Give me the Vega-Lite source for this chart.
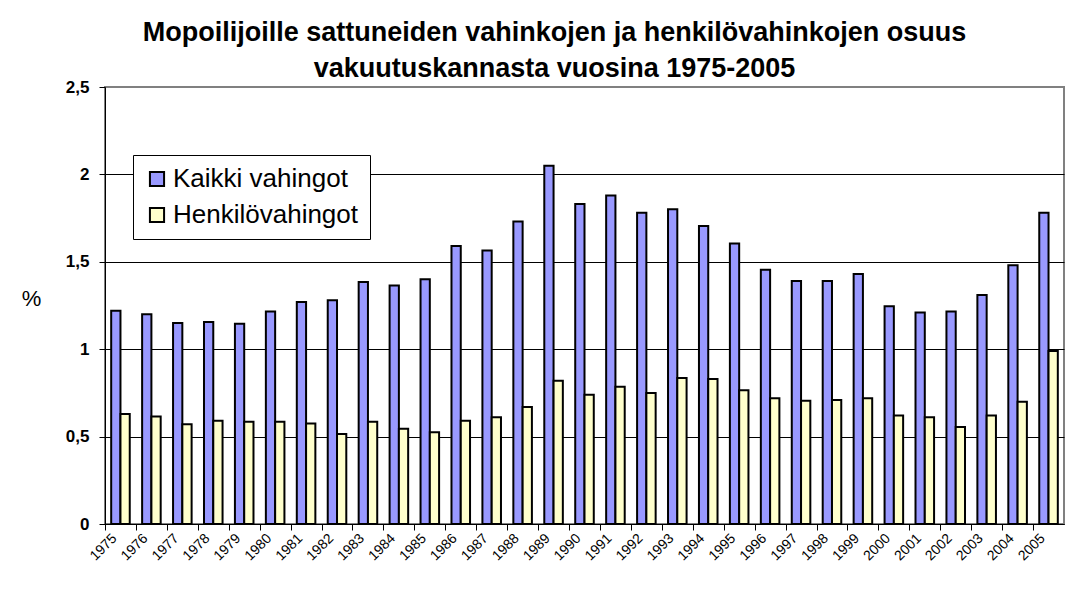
{
  "$schema": "https://vega.github.io/schema/vega-lite/v6.json",
  "width": 959,
  "height": 437,
  "autosize": {"type": "none"},
  "padding": {"left": 105, "top": 87, "right": 18, "bottom": 74},
  "background": "white",
  "config": {
    "font": "Liberation Sans",
    "view": {"stroke": "#808080", "strokeWidth": 2, "fill": "white"}
  },
  "title": {
    "text": ["Mopoilijoille sattuneiden vahinkojen ja henkilövahinkojen osuus", "vakuutuskannasta vuosina 1975-2005"],
    "font": "Liberation Sans",
    "fontSize": 27,
    "fontWeight": "bold",
    "color": "black",
    "anchor": "middle",
    "dx": -30,
    "offset": -5,
    "lineHeight": 36
  },
  "data": {
    "values": [
      {"year": "1975", "series": "Kaikki vahingot", "value": 1.22},
      {"year": "1976", "series": "Kaikki vahingot", "value": 1.2},
      {"year": "1977", "series": "Kaikki vahingot", "value": 1.15},
      {"year": "1978", "series": "Kaikki vahingot", "value": 1.155},
      {"year": "1979", "series": "Kaikki vahingot", "value": 1.145},
      {"year": "1980", "series": "Kaikki vahingot", "value": 1.215},
      {"year": "1981", "series": "Kaikki vahingot", "value": 1.27},
      {"year": "1982", "series": "Kaikki vahingot", "value": 1.28},
      {"year": "1983", "series": "Kaikki vahingot", "value": 1.385},
      {"year": "1984", "series": "Kaikki vahingot", "value": 1.365},
      {"year": "1985", "series": "Kaikki vahingot", "value": 1.4},
      {"year": "1986", "series": "Kaikki vahingot", "value": 1.59},
      {"year": "1987", "series": "Kaikki vahingot", "value": 1.565},
      {"year": "1988", "series": "Kaikki vahingot", "value": 1.73},
      {"year": "1989", "series": "Kaikki vahingot", "value": 2.05},
      {"year": "1990", "series": "Kaikki vahingot", "value": 1.83},
      {"year": "1991", "series": "Kaikki vahingot", "value": 1.88},
      {"year": "1992", "series": "Kaikki vahingot", "value": 1.78},
      {"year": "1993", "series": "Kaikki vahingot", "value": 1.8},
      {"year": "1994", "series": "Kaikki vahingot", "value": 1.705},
      {"year": "1995", "series": "Kaikki vahingot", "value": 1.605},
      {"year": "1996", "series": "Kaikki vahingot", "value": 1.455},
      {"year": "1997", "series": "Kaikki vahingot", "value": 1.39},
      {"year": "1998", "series": "Kaikki vahingot", "value": 1.39},
      {"year": "1999", "series": "Kaikki vahingot", "value": 1.43},
      {"year": "2000", "series": "Kaikki vahingot", "value": 1.245},
      {"year": "2001", "series": "Kaikki vahingot", "value": 1.21},
      {"year": "2002", "series": "Kaikki vahingot", "value": 1.215},
      {"year": "2003", "series": "Kaikki vahingot", "value": 1.31},
      {"year": "2004", "series": "Kaikki vahingot", "value": 1.48},
      {"year": "2005", "series": "Kaikki vahingot", "value": 1.78},
      {"year": "1975", "series": "Henkilövahingot", "value": 0.63},
      {"year": "1976", "series": "Henkilövahingot", "value": 0.615},
      {"year": "1977", "series": "Henkilövahingot", "value": 0.57},
      {"year": "1978", "series": "Henkilövahingot", "value": 0.59},
      {"year": "1979", "series": "Henkilövahingot", "value": 0.585},
      {"year": "1980", "series": "Henkilövahingot", "value": 0.585},
      {"year": "1981", "series": "Henkilövahingot", "value": 0.575},
      {"year": "1982", "series": "Henkilövahingot", "value": 0.515},
      {"year": "1983", "series": "Henkilövahingot", "value": 0.585},
      {"year": "1984", "series": "Henkilövahingot", "value": 0.545},
      {"year": "1985", "series": "Henkilövahingot", "value": 0.525},
      {"year": "1986", "series": "Henkilövahingot", "value": 0.59},
      {"year": "1987", "series": "Henkilövahingot", "value": 0.61},
      {"year": "1988", "series": "Henkilövahingot", "value": 0.67},
      {"year": "1989", "series": "Henkilövahingot", "value": 0.82},
      {"year": "1990", "series": "Henkilövahingot", "value": 0.74},
      {"year": "1991", "series": "Henkilövahingot", "value": 0.785},
      {"year": "1992", "series": "Henkilövahingot", "value": 0.75},
      {"year": "1993", "series": "Henkilövahingot", "value": 0.835},
      {"year": "1994", "series": "Henkilövahingot", "value": 0.83},
      {"year": "1995", "series": "Henkilövahingot", "value": 0.765},
      {"year": "1996", "series": "Henkilövahingot", "value": 0.72},
      {"year": "1997", "series": "Henkilövahingot", "value": 0.705},
      {"year": "1998", "series": "Henkilövahingot", "value": 0.71},
      {"year": "1999", "series": "Henkilövahingot", "value": 0.72},
      {"year": "2000", "series": "Henkilövahingot", "value": 0.62},
      {"year": "2001", "series": "Henkilövahingot", "value": 0.61},
      {"year": "2002", "series": "Henkilövahingot", "value": 0.555},
      {"year": "2003", "series": "Henkilövahingot", "value": 0.62},
      {"year": "2004", "series": "Henkilövahingot", "value": 0.7},
      {"year": "2005", "series": "Henkilövahingot", "value": 0.99}
    ]
  },
  "mark": {"type": "bar", "stroke": "black", "strokeWidth": 2},
  "encoding": {
    "x": {
      "field": "year",
      "type": "nominal",
      "scale": {"paddingInner": 0.4, "paddingOuter": 0.2},
      "axis": {
        "title": null,
        "labelAngle": -45,
        "labelAlign": "right",
        "labelBaseline": "middle",
        "labelFontSize": 14,
        "labelColor": "black",
        "labelPadding": 6,
        "bandPosition": 0,
        "tickOffset": -6.2,
        "labelOffset": 0,
        "tickSize": 6,
        "tickColor": "black",
        "domainColor": "black",
        "domainWidth": 1,
        "grid": false
      }
    },
    "xOffset": {
      "field": "series",
      "type": "nominal",
      "sort": ["Kaikki vahingot", "Henkilövahingot"],
      "scale": {"paddingInner": 0, "paddingOuter": 0}
    },
    "y": {
      "field": "value",
      "type": "quantitative",
      "scale": {"domain": [0, 2.5], "nice": false},
      "axis": {
        "values": [0, 0.5, 1, 1.5, 2, 2.5],
        "labelExpr": "replace(toString(datum.value), '.', ',')",
        "labelFontSize": 17,
        "labelFontWeight": "bold",
        "labelColor": "black",
        "labelPadding": 10,
        "tickSize": 6,
        "tickColor": "black",
        "domainColor": "black",
        "domainWidth": 1,
        "grid": true,
        "gridColor": {"condition": {"test": "datum.value == 2.5", "value": "#808080"}, "value": "black"},
        "gridWidth": 1,
        "title": "%",
        "titleAngle": 0,
        "titleFontSize": 22,
        "titleFontWeight": "normal",
        "titleColor": "black",
        "titleX": -74,
        "titleY": 211,
        "titleAlign": "center",
        "titleBaseline": "middle"
      }
    },
    "color": {
      "field": "series",
      "type": "nominal",
      "scale": {"domain": ["Kaikki vahingot", "Henkilövahingot"], "range": ["#9999FF", "#FFFFCC"]},
      "legend": {
        "title": null,
        "orient": "none",
        "legendX": 28,
        "legendY": 68,
        "fillColor": "white",
        "strokeColor": "black",
        "padding": 11,
        "labelFontSize": 26,
        "labelColor": "black",
        "labelLimit": 400,
        "symbolType": "square",
        "symbolSize": 200,
        "symbolStrokeColor": "black",
        "symbolStrokeWidth": 2,
        "rowPadding": 10,
        "labelOffset": 3
      }
    }
  }
}
